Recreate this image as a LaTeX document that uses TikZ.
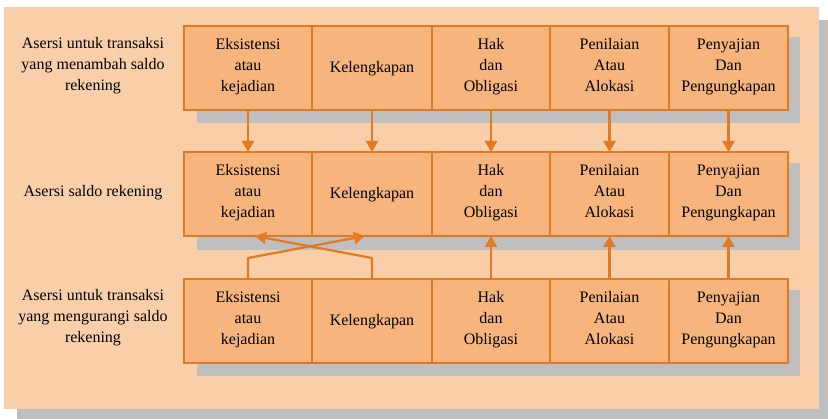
\documentclass[tikz,border=0pt]{standalone}
\usepackage{fontspec}
\setmainfont{Liberation Serif}
\usetikzlibrary{arrows.meta}
\definecolor{panel}{HTML}{F9CFA9}
\definecolor{boxfill}{HTML}{F7B57D}
\definecolor{edge}{HTML}{E27A22}
\definecolor{shade}{HTML}{BFBFBF}
\begin{document}
\begin{tikzpicture}[x=1pt,y=-1pt,
  cell/.style={draw=edge, fill=boxfill, line width=1.6pt, minimum height=84pt, inner sep=0pt, outer sep=0pt, align=center, font=\fontsize{16}{21}\selectfont, anchor=north west, text=black, execute at begin node=\strut, execute at end node=\strut},
  lbl/.style={align=center, font=\fontsize{16}{21}\selectfont, text=black, execute at begin node=\strut, execute at end node=\strut},
  arr/.style={draw=edge, line width=2.2pt, -{Triangle[width=12pt,length=11pt]}},
  shadowbox/.style={fill=shade, draw=none},
  panelbox/.style={fill=panel, draw=none}]
\useasboundingbox (0,0) rectangle (828,419);
\fill[white] (0,0) rectangle (828,419);
% outer panel with shadow
\path[shadowbox] (17,20) rectangle (828,419);
\path[panelbox] (4,7) rectangle (819,409);
% row shadows
\path[shadowbox] (197,37) rectangle (800,123);
\path[shadowbox] (197,163) rectangle (800,250);
\path[shadowbox] (197,290) rectangle (800,376);
% labels
\node[lbl] (l1) at (93,67) {Asersi untuk transaksi\\yang menambah saldo\\rekening};
\node[lbl] (l2) at (93,192) {Asersi saldo rekening};
\node[lbl] (l3) at (93,319) {Asersi untuk transaksi\\yang mengurangi saldo\\rekening};
% rows
\foreach \r/\y in {1/26,2/152,3/279}{
  \node[cell, minimum width=128pt] (r\r c1) at (184,\y) {Eksistensi\\atau\\kejadian};
  \node[cell, minimum width=120pt] (r\r c2) at (312,\y) {Kelengkapan};
  \node[cell, minimum width=118pt] (r\r c3) at (432,\y) {Hak\\dan\\Obligasi};
  \node[cell, minimum width=119pt] (r\r c4) at (550,\y) {Penilaian\\Atau\\Alokasi};
  \node[cell, minimum width=119pt] (r\r c5) at (669,\y) {Penyajian\\Dan\\Pengungkapan};
}
% down arrows
\foreach \c in {1,...,5}{
  \draw[arr] (r1c\c.south) -- (r2c\c.north);
}
% up arrows
\foreach \c in {3,4,5}{
  \draw[arr] (r3c\c.north) -- (r2c\c.south);
}
% crossing arrows
\draw[arr, line join=round] (r3c1.north) -- ++(0,-21) -- ([xshift=-7pt]r2c2.south);
\draw[arr, line join=round] (r3c2.north) -- ++(0,-21) -- ([xshift=7pt]r2c1.south);
\end{tikzpicture}
\end{document}
